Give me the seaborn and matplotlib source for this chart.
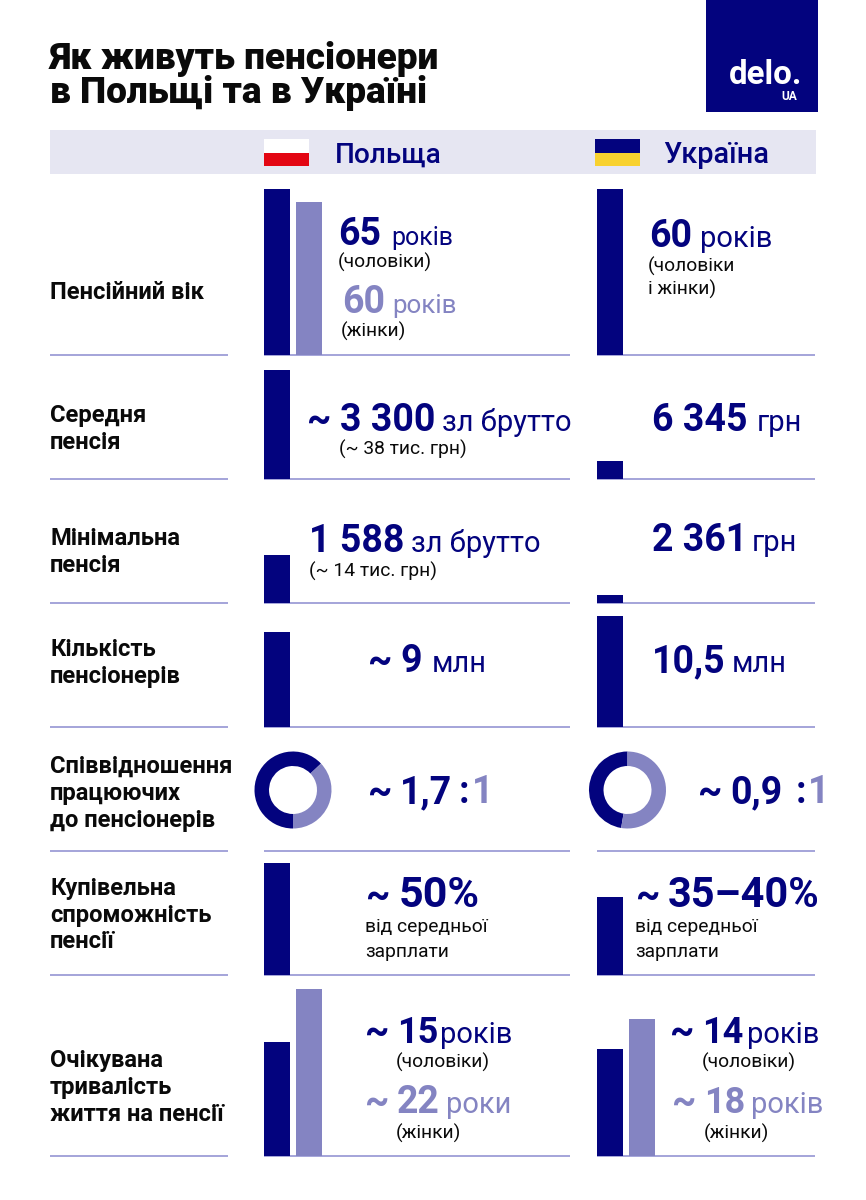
import matplotlib
matplotlib.use('Agg')
import matplotlib.pyplot as plt
from matplotlib.patches import Rectangle
import seaborn as sns

sns.set_theme(style='white')
plt.rcParams['font.family'] = ['Roboto', 'DejaVu Sans']

W, H = 866, 1200
navy = '#03037E'
light = '#8484C2'
rule_col = '#8C8CCF'
band = '#E6E6F2'
black = '#0A0A0A'

#values behind the bars
sex = ['чоловіки', 'жінки']
pl_age = [65, 60]
ua_age = [60]
pl_avg = [38]
ua_avg = [6.345]
pl_min = [14]
ua_min = [2.361]
pl_count = [9]
ua_count = [10.5]
pl_ratio = [1.7, 1]
ua_ratio = [0.9, 1]
pl_buy = [50]
ua_buy = [35]
pl_life = [15, 22]
ua_life = [14, 18]

title_lines = ['Як живуть пенсіонери', 'в Польщі та в Україні']
countries = ['Польща', 'Україна']
row_labels = [
    ['Пенсійний вік'],
    ['Середня', 'пенсія'],
    ['Мінімальна', 'пенсія'],
    ['Кількість', 'пенсіонерів'],
    ['Співвідношення', 'працюючих', 'до пенсіонерів'],
    ['Купівельна', 'спроможність', 'пенсії'],
    ['Очікувана', 'тривалість', 'життя на пенсії'],
]

fig = plt.figure(figsize=(W / 100, H / 100), dpi=100, facecolor='white')

#overlay in pixel coords for text, rules and header
bg = fig.add_axes([0, 0, 1, 1])
bg.set_xlim(0, W)
bg.set_ylim(H, 0)
bg.axis('off')


def put(x, y, s, size, color=navy, weight='normal'):
    bg.text(x, y, s, fontsize=size * 0.72, color=color, fontweight=weight, va='baseline', ha='left')


def big(x, y, s, color=navy, size=37.5):
    put(x, y, s, size, color, 'bold')


def unit(x, y, s, color=navy, size=29):
    put(x, y, s, size, color)


def note(x, y, s):
    put(x, y, s, 19.3, black)


def bars(x, base, height, values, ymax):
    ax = fig.add_axes([x / W, 1 - base / H, 58 / W, height / H])
    ax.patch.set_alpha(0)
    sns.barplot(x=sex[:len(values)], y=values, hue=sex[:len(values)], palette=[navy, light][:len(values)],
                saturation=1, width=0.8, legend=False, linewidth=0, ax=ax)
    ax.set_xlim(-0.4, 1.4)
    ax.set_ylim(0, ymax)
    ax.axis('off')


def donut(cx, cy, r, values, start):
    ax = fig.add_axes([(cx - r) / W, 1 - (cy + r) / H, 2 * r / W, 2 * r / H])
    ax.pie(values, colors=[navy, light], startangle=start, counterclock=False, radius=1,
           wedgeprops={'width': 0.377, 'linewidth': 0})
    ax.set_xlim(-1, 1)
    ax.set_ylim(-1, 1)


#title
put(50, 69, title_lines[0], 37, black, 'black')
put(50, 103, title_lines[1], 37, black, 'black')

#logo
bg.add_patch(Rectangle((706, 0), 112, 112, color=navy, lw=0))
put(729, 84, 'delo.', 33, 'white', 'bold')
put(781, 100, 'UA', 12, 'white', 'bold')

#header band and flags
bg.add_patch(Rectangle((50, 130), 766, 44, color=band, lw=0))
bg.add_patch(Rectangle((264, 139), 45, 14, color='white', lw=0))
bg.add_patch(Rectangle((264, 153), 45, 13, color='#E30613', lw=0))
bg.add_patch(Rectangle((595, 139), 45, 14, color=navy, lw=0))
bg.add_patch(Rectangle((595, 153), 45, 13, color='#F8D12F', lw=0))
put(335, 163, countries[0], 28, navy, 'medium')
put(663, 163, countries[1], 29, navy, 'medium')

#row rules
for y in [355, 479, 603, 727, 851, 975, 1156]:
    bg.plot([50, 228], [y, y], color=rule_col, lw=1.1, solid_capstyle='butt')
    bg.plot([264, 570], [y, y], color=rule_col, lw=1.1, solid_capstyle='butt')
    bg.plot([597, 815], [y, y], color=rule_col, lw=1.1, solid_capstyle='butt')

#row labels
label_y = [[299], [422, 449], [545, 572], [656, 683], [773, 800, 827], [895, 922, 948], [1067, 1094, 1121]]
for lines, ys in zip(row_labels, label_y):
    for s, y in zip(lines, ys):
        put(50, y, s, 23.7, black, 'bold')

#retirement age
bars(264, 355, 166, pl_age, max(pl_age))
bars(597, 355, 166, ua_age, max(ua_age))
big(338, 245, str(pl_age[0]))
unit(391, 245, 'років', size=25)
note(338, 268, '(чоловіки)')
big(342, 313, str(pl_age[1]), light)
unit(392, 313, 'років', light, size=26)
note(341, 337, '(жінки)')
big(649, 247, str(ua_age[0]))
unit(700, 247, 'років')
note(648, 272, '(чоловіки')
note(648, 295, 'і жінки)')

#average pension
bars(264, 479, 109, pl_avg, 38)
bars(597, 479, 109, ua_avg, 38)
big(307, 431, '~')
big(340, 431, '3 300')
unit(442, 431, 'зл брутто')
note(339, 455, '(~ 38 тис. грн)')
big(652, 431, '6 345')
unit(757, 431, 'грн')

#minimum pension
bars(264, 603, 48, pl_min, 14)
bars(597, 603, 48, ua_min, 14)
big(309, 552, '1 588')
unit(411, 552, 'зл брутто')
note(309, 577, '(~ 14 тис. грн)')
big(652, 551, '2 361')
unit(752, 551, 'грн')

#number of pensioners
bars(264, 727, 111, pl_count, 10.5)
bars(597, 727, 111, ua_count, 10.5)
big(368, 672, '~')
big(400, 672, '9')
unit(432, 672, 'млн')
big(652, 672, '10,5')
unit(732, 672, 'млн')

#workers to pensioners
donut(293, 790, 38.5, pl_ratio, 270)
donut(627.5, 790, 38.5, ua_ratio, 260.5)
big(368, 803, '~')
big(400, 803, '1,7')
big(459, 803, ':')
big(472, 803, '1', light)
big(698, 803, '~')
big(730, 803, '0,9')
big(796, 803, ':')
big(808, 803, '1', light)

#purchasing power
bars(264, 975, 112, pl_buy, 50)
bars(597, 975, 112, ua_buy, 50)
big(366, 907, '~')
big(399, 907, '50%', size=43)
note(365, 932, 'від середньої')
note(365, 957, 'зарплати')
big(636, 907, '~')
big(668, 907, '35–40%', size=41.5)
note(635, 932, 'від середньої')
note(635, 957, 'зарплати')

#life on pension
bars(264, 1156, 167, pl_life, 22)
bars(597, 1156, 137, ua_life, 18)
big(365, 1043, '~')
big(397, 1043, str(pl_life[0]), size=36)
unit(440, 1043, 'років')
note(396, 1068, '(чоловіки)')
big(365, 1113, '~', light)
big(397, 1113, str(pl_life[1]), light)
unit(446, 1113, 'роки', light)
note(396, 1139, '(жінки)')
big(670, 1043, '~')
big(702, 1043, str(ua_life[0]), size=36)
unit(747, 1043, 'років')
note(702, 1068, '(чоловіки)')
big(672, 1113, '~', light)
big(704, 1113, str(ua_life[1]), light, size=36)
unit(751, 1113, 'років', light)
note(704, 1139, '(жінки)')

fig.savefig('out.png', dpi=100, facecolor='white')
